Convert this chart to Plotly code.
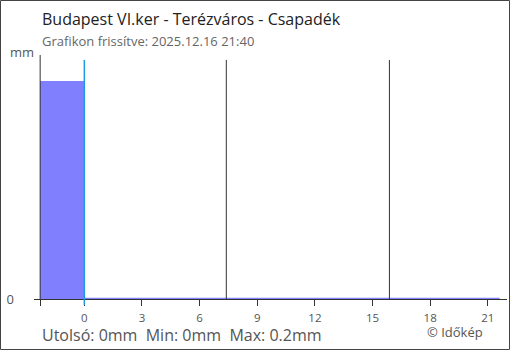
import plotly.graph_objects as go

# ---- data ----
title_text = "Budapest VI.ker - Terézváros - Csapadék"
subtitle_text = "Grafikon frissítve: 2025.12.16 21:40"
bar_start = [-2.3]          # hours (previous period block)
bar_end = [0.0]
bar_values = [0.2]          # mm
line_hours = [0.0, 21.62]   # today's series
line_values = [0.0, 0.0]    # mm
now_hour = 0.0
sun_hours = [7.39, 15.88]   # sunrise / sunset markers
tick_vals = [-2.3, 0, 3, 6, 9, 12, 15, 18, 21]
tick_text = ["", "0", "3", "6", "9", "12", "15", "18", "21"]
y_max = 0.2235
marker_top = 0.219
stats_text = "Utolsó: 0mm  Min: 0mm  Max: 0.2mm"
credit_text = "© Időkép"

W, H = 510, 350
L, R, T, B = 34, 3, 55, 51
PW, PH = W - L - R, H - T - B

def px(x):
    return (x - L) / PW

def py(y):
    return (H - B - y) / PH

FONT = "Open Sans"

fig = go.Figure()

fig.add_trace(go.Bar(
    x=[(s + e) / 2 for s, e in zip(bar_start, bar_end)],
    width=[e - s for s, e in zip(bar_start, bar_end)],
    y=bar_values,
    marker=dict(color="#8080FF", line=dict(width=0)),
    hoverinfo="skip",
))

fig.add_trace(go.Scatter(
    x=line_hours, y=line_values, mode="lines",
    line=dict(color="#8080FF", width=2.5),
    hoverinfo="skip", cliponaxis=False,
))

shapes = []
# left axis line
shapes.append(dict(type="line", xref="x", yref="y", x0=bar_start[0], x1=bar_start[0],
                   y0=0, y1=y_max, line=dict(color="#333333", width=1), layer="above"))
# sun lines
for h in sun_hours:
    shapes.append(dict(type="line", xref="x", yref="y", x0=h, x1=h, y0=0, y1=marker_top,
                       line=dict(color="#333333", width=1), layer="above"))
# now line (extends below axis)
shapes.append(dict(type="line", xref="x", yref="paper", x0=now_hour, x1=now_hour,
                   y0=-6 / PH, y1=marker_top / y_max, line=dict(color="#1E9BE0", width=1.5),
                   layer="above"))
# outer border
shapes.append(dict(type="rect", xref="paper", yref="paper",
                   x0=px(0.5), x1=px(W - 0.5), y0=py(H - 0.5), y1=py(0.5),
                   line=dict(color="#444444", width=1), fillcolor="rgba(0,0,0,0)"))

annotations = [
    dict(text=title_text, x=px(40), y=py(19), xanchor="left", yanchor="middle",
         font=dict(family=FONT, size=16, color="#222222")),
    dict(text=subtitle_text, x=px(40), y=py(41), xanchor="left", yanchor="middle",
         font=dict(family=FONT, size=13, color="#666666")),
    dict(text="mm", x=px(36), y=py(52), xanchor="right", yanchor="middle",
         font=dict(family=FONT, size=13, color="#555555")),
    dict(text=stats_text, x=px(40), y=py(335), xanchor="left", yanchor="middle",
         font=dict(family=FONT, size=16, color="#555555")),
    dict(text=credit_text, x=px(425), y=py(332), xanchor="left", yanchor="middle",
         font=dict(family=FONT, size=13, color="#555555")),
]
for a in annotations:
    a.update(xref="paper", yref="paper", showarrow=False)

fig.update_layout(
    width=W, height=H,
    margin=dict(l=L, r=R, t=T, b=B, pad=0),
    paper_bgcolor="white", plot_bgcolor="white",
    showlegend=False,
    shapes=shapes, annotations=annotations,
    font=dict(family=FONT, color="#555555"),
    bargap=0,
    xaxis=dict(range=[-2.62, 22.0], tickvals=tick_vals, ticktext=tick_text,
               showgrid=False, zeroline=False, showline=True, linecolor="#333333",
               linewidth=1, ticks="outside", ticklen=6, tickcolor="#333333",
               ticklabelstandoff=2,
               tickfont=dict(family=FONT, size=11.5, color="#555555"), fixedrange=True),
    yaxis=dict(range=[0, y_max], tickvals=[0], ticktext=["0"], showgrid=False,
               zeroline=False, showline=False, ticks="",
               ticklabelstandoff=19,
               tickfont=dict(family=FONT, size=13, color="#555555"), fixedrange=True),
)

fig.write_html("out.html")
